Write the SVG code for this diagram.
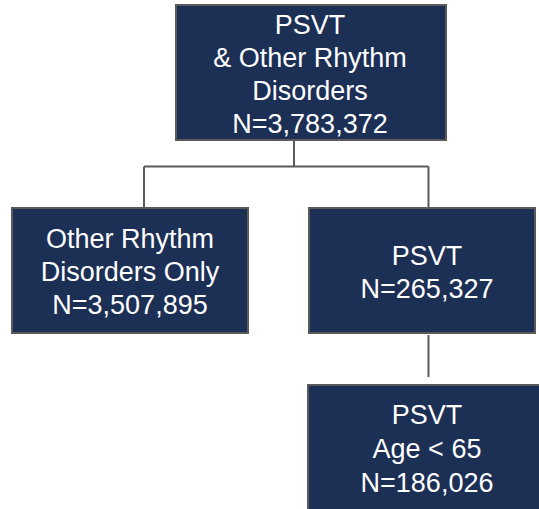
<svg xmlns="http://www.w3.org/2000/svg" width="539" height="509" viewBox="0 0 539 509">
<style>
.box{fill:#1c2f55;stroke:#5a5a5a;stroke-width:2}
.t{font-family:"Liberation Sans",Arial,sans-serif;font-size:27px;fill:#ffffff;text-anchor:middle}
.c{fill:none;stroke:#5a5a5a;stroke-width:2}
</style>
<rect width="539" height="509" fill="#ffffff"/>
<g id="connectors">
<path class="c" d="M294,140 V166.5 M144,166.5 H428.5 M144,166.5 V208 M428.5,166.5 V208 M428.5,335 V377"/>
</g>
<g id="root">
<rect class="box" x="176" y="5" width="270" height="135"/>
<text class="t" x="310" y="34">PSVT</text>
<text class="t" x="310" y="67">&amp; Other Rhythm</text>
<text class="t" x="310" y="100">Disorders</text>
<text class="t" x="310" y="133">N=3,783,372</text>
</g>
<g id="other">
<rect class="box" x="12" y="208" width="236" height="125"/>
<text class="t" x="130" y="248">Other Rhythm</text>
<text class="t" x="130" y="281">Disorders Only</text>
<text class="t" x="130" y="314">N=3,507,895</text>
</g>
<g id="psvt">
<rect class="box" x="309" y="208" width="226" height="125"/>
<text class="t" x="427" y="265">PSVT</text>
<text class="t" x="427" y="298">N=265,327</text>
</g>
<g id="psvt65">
<rect class="box" x="308" y="385" width="240" height="130"/>
<text class="t" x="427" y="424">PSVT</text>
<text class="t" x="427" y="458">Age &lt; 65</text>
<text class="t" x="427" y="492">N=186,026</text>
</g>
</svg>
